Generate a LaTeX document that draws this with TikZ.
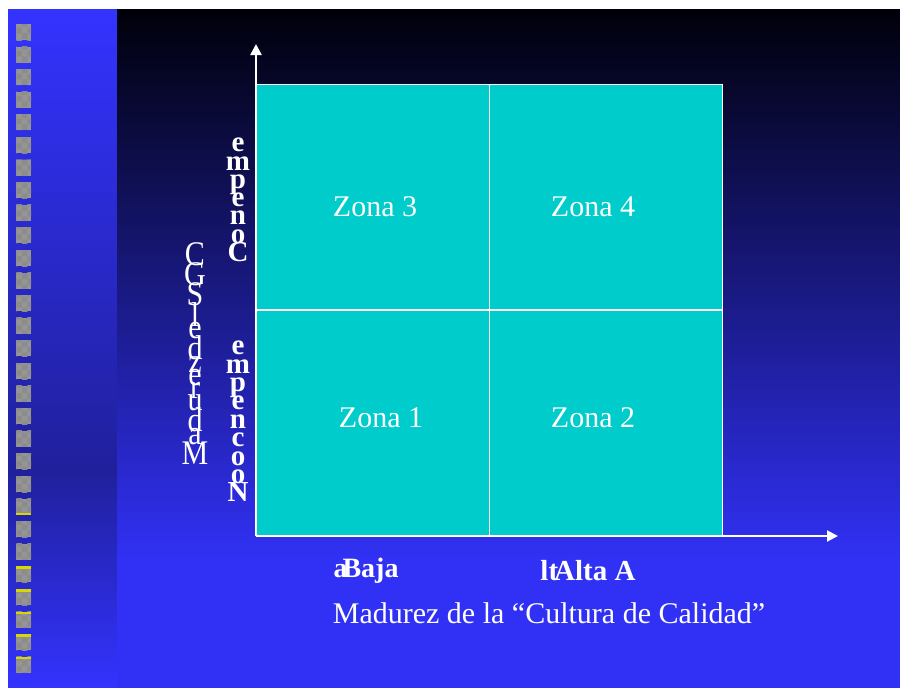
\documentclass[tikz,border=0pt]{standalone}
\usepackage{fontspec}
\setmainfont{Liberation Serif}
\usetikzlibrary{arrows.meta,patterns}
\definecolor{slideblue}{HTML}{3333FF}
\definecolor{stripdark}{HTML}{20209C}
\definecolor{nightblue}{HTML}{00000A}
\definecolor{midblue}{HTML}{2424AA}
\definecolor{zonateal}{HTML}{00CCCC}
\definecolor{bulletgray}{HTML}{959595}
\definecolor{bulletyellow}{HTML}{D8D800}
\newcommand\tightlines{\lineskiplimit=-100pt\relax}
\newcommand\touchlines{\baselineskip=0pt\lineskip=-3pt\lineskiplimit=0pt\relax}
\tikzset{
  zone/.style={draw=white, line width=1.5pt, fill=zonateal,
    minimum width=233pt, minimum height=225.5pt, inner sep=0pt},
  zonetext/.style={text=white, font=\fontsize{30}{34}\selectfont},
  stacked/.style={text=white, align=center, inner sep=0pt},
  axis/.style={white, line width=2.5pt, -{Triangle[length=11pt,width=11pt]}},
}
\begin{document}
\begin{tikzpicture}[x=1pt,y=-1pt]
      \useasboundingbox (0,0) rectangle (900,688);
      \fill[white] (0,0) rectangle (900,688);
      \shade[top color=slideblue, bottom color=stripdark] (8,9) rectangle (117,470);
      \shade[top color=stripdark, bottom color=slideblue] (8,470) rectangle (117,688);
      \shade[top color=nightblue, middle color=midblue, bottom color=slideblue!96!black]
        (117,9) rectangle (900,560);
      \fill[slideblue!96!black] (117,560) rectangle (900,688);
      \foreach \i in {0,...,28} {
        \fill[bulletgray] (16,{24+22.6*\i}) rectangle ++(15,16);
        \fill[pattern=checkerboard, pattern color=black!45] (16,{24+22.6*\i}) rectangle ++(15,16);
      }
      \foreach \i in {24,...,28}
        \fill[bulletyellow] (16,{24+22.6*\i}) rectangle ++(15,2.5);
      \fill[bulletyellow] (16,{24+22.6*21+14}) rectangle ++(15,2.5);
      \draw
        (373,197) node[zone] (z3){}
        (606,197) node[zone] (z4){}
        (373,422.5) node[zone] (z1){}
        (606,422.5) node[zone] (z2){};
      \draw
        (375,207) node[zonetext] (t3){Zona 3}
        (593,207) node[zonetext] (t4){Zona 4}
        (381,418) node[zonetext] (t1){Zona 1}
        (593,418) node[zonetext] (t2){Zona 2};
      \coordinate (o) at (256,536);
      \coordinate (ytip) at (256,44);
      \coordinate (xtip) at (838,536);
      \begin{scope}[axis]
        \draw (o) to (ytip);
        \draw[line width=2pt] (o) to (xtip);
      \end{scope}
      \begin{scope}[shift={(195,353.5)}, yscale=1.15]
        \node[stacked, transform shape, font=\fontsize{30}{0}\selectfont\touchlines] (sgc) at (0,0)
          {C\\G\\S\\l\\e\\d\\z\\e\\r\\u\\d\\a\\M};
      \end{scope}
      \node[stacked, font=\bfseries\fontsize{29}{18.3}\selectfont\tightlines] (conoce) at (238,200)
        {e\\m\\p\\e\\n\\o\\C};
      \node[stacked, font=\bfseries\fontsize{29}{18.4}\selectfont\tightlines] (noconoce) at (238,421.5)
        {e\\m\\p\\e\\n\\c\\o\\o\\N};
      \draw
        (366,571) node[text=white, font=\bfseries\fontsize{28}{32}\selectfont] (baja){a\kern-5pt Baja}
        (588,571) node[text=white, font=\bfseries\fontsize{29}{32}\selectfont] (alta){lt\kern-4pt Alta A}
        (549,613) node[text=white, font=\fontsize{30}{34}\selectfont] (madurez){Madurez de la “Cultura de Calidad”};
    \end{tikzpicture}
\end{document}
